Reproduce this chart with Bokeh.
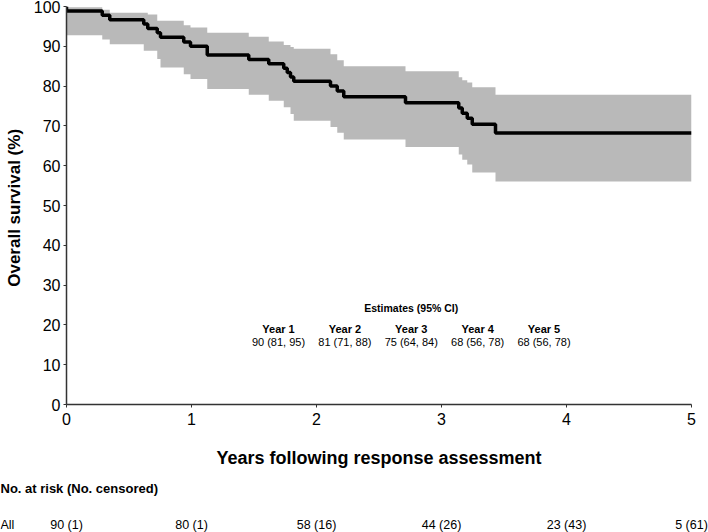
from bokeh.plotting import figure
from bokeh.models import FixedTicker, Range1d
from bokeh.embed import file_html
from bokeh.resources import INLINE
from bokeh.core.properties import value

# Kaplan-Meier estimate (years, % surviving)
event_years = [0.0, 0.286, 0.346, 0.618, 0.650, 0.726, 0.752, 0.938, 0.992, 1.126,
               1.458, 1.618, 1.738, 1.766, 1.792, 1.818, 2.112, 2.166, 2.218, 2.712,
               3.138, 3.166, 3.206, 3.246, 3.432]
survival = [98.9, 97.8, 96.7, 95.6, 94.5, 93.4, 92.3, 91.1, 90.0, 87.8,
            86.7, 85.6, 84.5, 83.4, 82.3, 81.2, 80.0, 78.8, 77.3, 75.8,
            74.5, 73.2, 71.9, 70.4, 68.2]
ci_lower = [92.8, 91.7, 90.5, 88.9, 88.9, 86.8, 84.7, 83.0, 81.8, 79.3,
            77.8, 76.3, 74.7, 74.7, 73.0, 71.3, 69.7, 68.3, 66.6, 64.7,
            62.8, 61.5, 60.3, 58.3, 56.0]
ci_upper = [99.8, 99.2, 98.4, 98.4, 98.0, 96.4, 96.4, 95.3, 94.7, 93.4,
            92.4, 91.2, 90.3, 90.3, 89.8, 89.4, 88.0, 86.5, 85.0, 83.7,
            82.2, 81.5, 80.9, 79.7, 77.8]
follow_up_end = 5.0

# Estimates table
est_years = ["Year 1", "Year 2", "Year 3", "Year 4", "Year 5"]
est_value = [90, 81, 75, 68, 68]
est_lo = [81, 71, 64, 56, 56]
est_hi = [95, 88, 84, 78, 78]

# Number at risk table
risk_years = [0, 1, 2, 3, 4, 5]
at_risk = [90, 80, 58, 44, 23, 5]
censored = [1, 1, 16, 26, 43, 61]

x_ticks = [0, 1, 2, 3, 4, 5]
y_ticks = list(range(0, 101, 10))

FONT = "Liberation Sans"
W = 708
LEFT, RIGHT, TOP, BOTTOM = 66, 17, 6, 63
PLOT_H = 470
TABLE_H = 62
PX_PER_YEAR = (W - LEFT - RIGHT) / 5.0

p = figure(width=W, height=PLOT_H, x_range=(0, 5), y_range=(0, 100),
           output_backend="svg", toolbar_location=None,
           min_border_left=LEFT, min_border_right=RIGHT, min_border_top=TOP,
           min_border_bottom=BOTTOM)
p.outline_line_color = None
p.grid.visible = False

# CI band
band_x = event_years + [follow_up_end]
p.varea_step(x=band_x, y1=ci_lower + [ci_lower[-1]], y2=ci_upper + [ci_upper[-1]],
             step_mode="after", fill_color="#b9b9b9", fill_alpha=1.0)

# KM curve
line_x = [0.0] + event_years + [follow_up_end]
line_y = [100.0] + survival + [survival[-1]]
p.step(x=line_x, y=line_y, mode="after", line_color="black", line_width=3.5)

# Axes
p.xaxis.ticker = FixedTicker(ticks=x_ticks)
p.yaxis.ticker = FixedTicker(ticks=y_ticks)
for ax in (p.xaxis[0], p.yaxis[0]):
    ax.major_tick_out = 3
    ax.major_tick_in = 0
    ax.minor_tick_out = 0
    ax.minor_tick_in = 0
    ax.axis_line_color = "#333333"
    ax.axis_line_width = 1.5
    ax.major_tick_line_color = "#333333"
    ax.major_label_text_font = FONT
    ax.major_label_text_font_size = "16px"
    ax.major_label_text_color = "black"
    ax.axis_label_text_font = FONT
    ax.axis_label_text_font_style = "bold"
    ax.axis_label_text_font_size = "18px"
    ax.axis_label_text_color = "black"
p.xaxis.axis_label = "Years following response assessment"
p.yaxis.axis_label = "Overall survival  (%)"
p.xaxis.major_label_standoff = 5
p.xaxis.axis_label_standoff = 20
p.yaxis.major_label_standoff = 3
p.yaxis.axis_label_standoff = 7
p.yaxis.axis_label_text_font_size = "17px"

# Estimates block
est_x0 = 1.696
est_dx = 0.531
est_xs = [est_x0 + i * est_dx for i in range(len(est_years))]
est_texts = [f"{v} ({lo}, {hi})" for v, lo, hi in zip(est_value, est_lo, est_hi)]
p.text(x=[est_x0 + 2 * est_dx], y=[24.2], text=["Estimates (95% CI)"],
       text_font=value(FONT), text_font_size="10.5px", text_font_style="bold",
       text_align="center", text_baseline="middle", text_color="black")
p.text(x=est_xs, y=[19.0] * len(est_xs), text=est_years,
       text_font=value(FONT), text_font_size="11px", text_font_style="bold",
       text_align="center", text_baseline="middle", text_color="black")
p.text(x=est_xs, y=[15.7] * len(est_xs), text=est_texts,
       text_font=value(FONT), text_font_size="11px",
       text_align="center", text_baseline="middle", text_color="black")

# Number-at-risk table: a separate text-only strip on the same year scale
x0 = -LEFT / PX_PER_YEAR
x1 = (W - LEFT) / PX_PER_YEAR
t = figure(width=W, height=TABLE_H, x_range=Range1d(x0, x1),
           y_range=Range1d(TABLE_H, 0),
           x_axis_location=None, y_axis_location=None,
           output_backend="svg", toolbar_location=None,
           min_border_left=0, min_border_right=0, min_border_top=0,
           min_border_bottom=0)
t.grid.visible = False
t.outline_line_color = None
t.text(x=[x0], y=[18], text=["No. at risk (No. censored)"],
       text_font=value(FONT), text_font_size="13px", text_font_style="bold",
       text_align="left", text_baseline="middle", text_color="black")
t.text(x=[x0], y=[54], text=["All"],
       text_font=value(FONT), text_font_size="12.5px",
       text_align="left", text_baseline="middle", text_color="black")
t.text(x=risk_years, y=[54] * len(risk_years),
       text=[f"{n} ({c})" for n, c in zip(at_risk, censored)],
       text_font=value(FONT), text_font_size="12.5px",
       text_align="center", text_baseline="middle", text_color="black")

open("out.html", "w").write(file_html([p, t], INLINE))
